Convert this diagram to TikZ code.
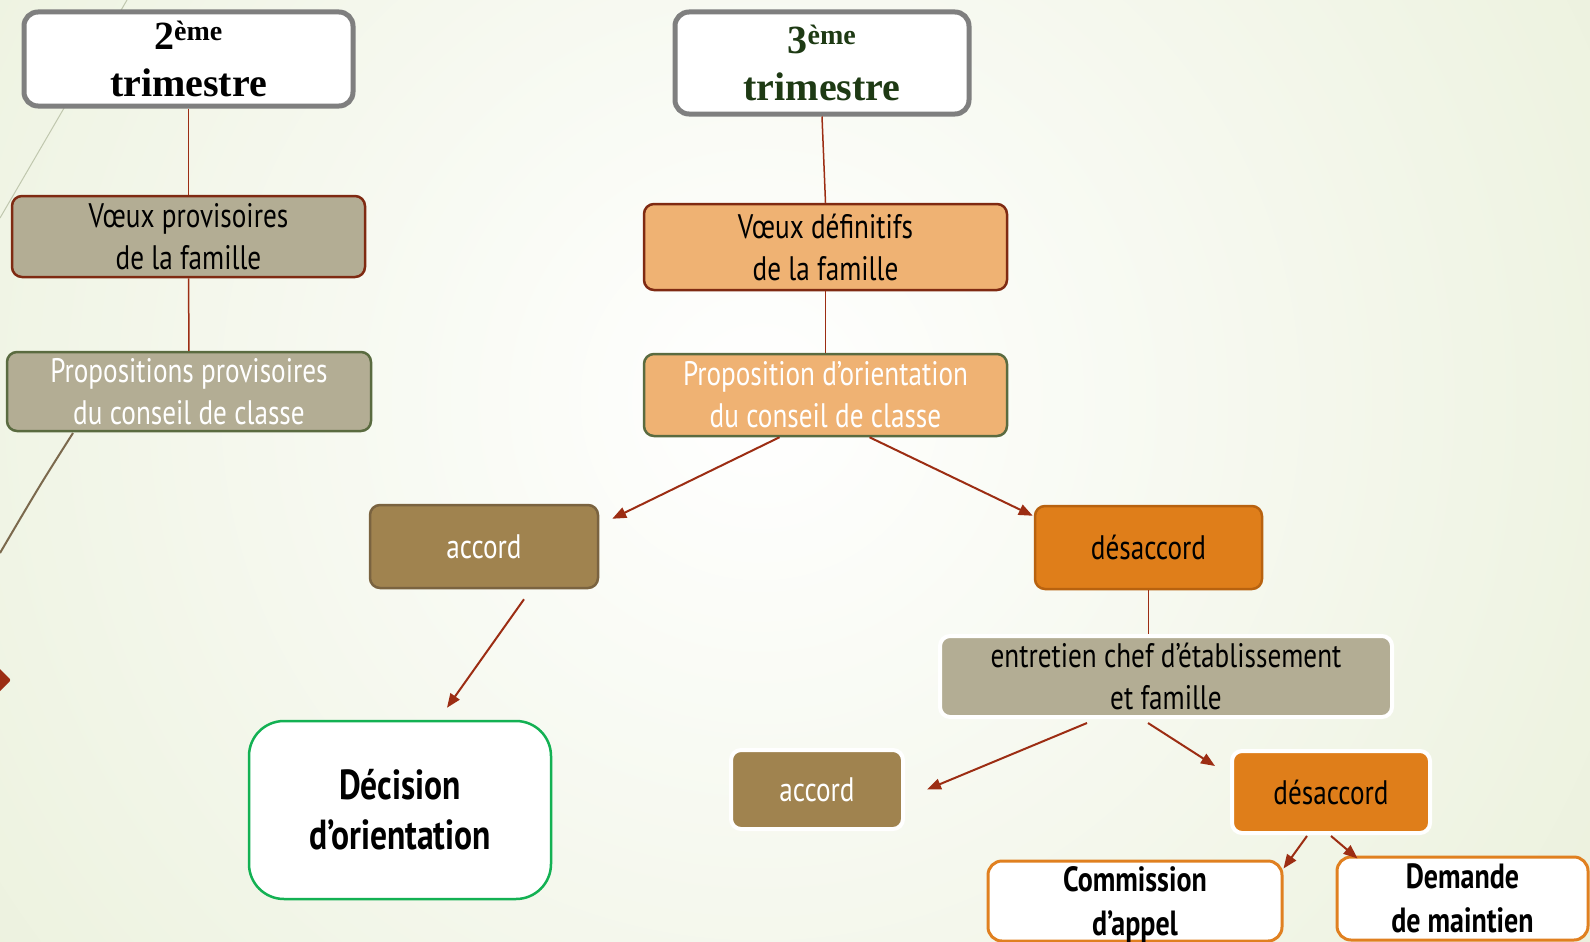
\documentclass[tikz,border=0pt]{standalone}
\usepackage{fontspec}
\setmainfont{Liberation Serif}
\newfontfamily\agency[FakeStretch=0.8]{PT Sans}
\usetikzlibrary{arrows.meta}

\definecolor{bgvert}{HTML}{DCE6C2}
\definecolor{rouge}{HTML}{9C2D13}
\definecolor{rougebord}{HTML}{7F2A12}
\definecolor{vertbord}{HTML}{5A6B40}
\definecolor{taupe}{HTML}{B3AD94}
\definecolor{orclair}{HTML}{EFB273}
\definecolor{brun}{HTML}{A0834F}
\definecolor{brunbord}{HTML}{7A6340}
\definecolor{orange}{HTML}{DF7E1A}
\definecolor{orangebord}{HTML}{B8620F}
\definecolor{orbord}{HTML}{E08020}
\definecolor{vertdec}{HTML}{13B153}
\definecolor{grisbord}{HTML}{7F7F7F}
\definecolor{vertfonce}{HTML}{1E3A14}

\begin{document}
\begin{tikzpicture}[x=1pt, y=-1pt,
  boite/.style={rounded corners=10pt, line width=2.5pt, align=center, inner sep=0pt, font=\agency\fontsize{34}{42}\selectfont},
  titre/.style={boite, draw=grisbord, line width=5pt, fill=white, rounded corners=14pt, font=\bfseries\fontsize{40}{47}\selectfont},
  gras/.style={boite, fill=white, draw=orbord, line width=3pt, rounded corners=14pt, text depth=0pt, font=\agency\bfseries\fontsize{35}{44}\selectfont},
  fleche/.style={draw=rouge, line width=2pt, -{Triangle[length=14pt,width=11pt]}},
  trait/.style={draw=rouge, line width=1.5pt}]
\path[use as bounding box, clip] (0,0) rectangle (1590,942);
\fill[bgvert] (0,0) rectangle (1590,942);
\shade[inner color=white, outer color=bgvert] (760,400) circle (1800pt);
% decor de la diapo
\draw[color=bgvert!70!gray, line width=1pt] (127,0) -- (0,218);
\draw[color=brunbord!80!gray, line width=2pt] (73,433) .. controls (40,485) .. (0,553);
\fill[rouge, rounded corners=2pt] (11,680) -- (-10,659) -- (-31,680) -- (-10,701) -- cycle;

% 2eme trimestre
\node[titre, minimum width=329pt, minimum height=94pt] (tri2) at (188.5,59) {2\textsuperscript{ème}\\trimestre};
\node[boite, fill=taupe, draw=rougebord, minimum width=353pt, minimum height=81pt] (vprov) at (188.5,236.5) {Vœux provisoires\\de la famille};
\node[boite, fill=taupe, draw=vertbord, text=white, minimum width=364pt, minimum height=79pt] (pprov) at (189,391.5) {Propositions provisoires\\du conseil de classe};
\draw[trait] (tri2) -- (vprov);
\draw[trait] (vprov) -- (pprov);

% 3eme trimestre
\node[titre, text=vertfonce, minimum width=294pt, minimum height=102pt] (tri3) at (822,63) {3\textsuperscript{ème}\\trimestre};
\node[boite, fill=orclair, draw=rougebord, minimum width=363pt, minimum height=86pt] (vdef) at (825.5,247) {Vœux définitifs\\de la famille};
\node[boite, fill=orclair, draw=vertbord, text=white, minimum width=363pt, minimum height=82pt] (pdef) at (825.5,395) {Proposition d’orientation\\du conseil de classe};
\draw[trait] (tri3.south) -- (vdef.north);
\draw[trait] (vdef) -- (pdef);

\node[boite, fill=brun, draw=brunbord, text=white, minimum width=228pt, minimum height=83pt] (acc1) at (484,546.5) {accord};
\node[boite, fill=orange, draw=orangebord, minimum width=227pt, minimum height=83pt] (des1) at (1148.5,547.5) {désaccord};
\draw[fleche] ([xshift=-46pt]pdef.south) -- ([xshift=13pt,yshift=-15pt]acc1.north east);
\draw[fleche] ([xshift=44pt]pdef.south) -- ([xshift=-1pt,yshift=-11pt]des1.north west);

\node[boite, fill=white, draw=vertdec, rounded corners=35pt, minimum width=302pt, minimum height=178pt, font=\agency\bfseries\fontsize{42}{50}\selectfont] (dec) at (400,810) {Décision\\d’orientation};
\draw[fleche] ([xshift=40pt,yshift=-10pt]acc1.south) -- ([xshift=47pt,yshift=12pt]dec.north);

\node[boite, fill=taupe, draw=white, line width=4pt, minimum width=452pt, minimum height=81pt] (ent) at (1166,676.5) {entretien chef d’établissement\\et famille};
\draw[trait] (des1.south) -- (des1.south |- ent.north);

\node[boite, fill=brun, draw=white, line width=4pt, text=white, minimum width=172pt, minimum height=79pt] (acc2) at (817,789.5) {accord};
\node[boite, fill=orange, draw=white, line width=4pt, minimum width=198pt, minimum height=82pt] (des2) at (1331,792) {désaccord};
\draw[fleche] ([xshift=-79pt,yshift=-4pt]ent.south) -- ([xshift=22pt]acc2.east);
\draw[fleche] ([xshift=-18pt,yshift=-4pt]ent.south) -- ([xshift=-15pt,yshift=-17pt]des2.north west);

\node[gras, minimum width=294pt, minimum height=80pt] (comm) at (1135,901) {Commission\\d’appel};
\node[gras, minimum width=251pt, minimum height=83pt] (maint) at (1462.5,898.5) {Demande\\de maintien};
\draw[fleche] ([xshift=-24pt,yshift=-1pt]des2.south) -- ([yshift=-9pt]comm.north east);
\draw[fleche] ([yshift=-1pt]des2.south) -- ([xshift=22pt,yshift=-3pt]maint.north west);
\end{tikzpicture}
\end{document}
